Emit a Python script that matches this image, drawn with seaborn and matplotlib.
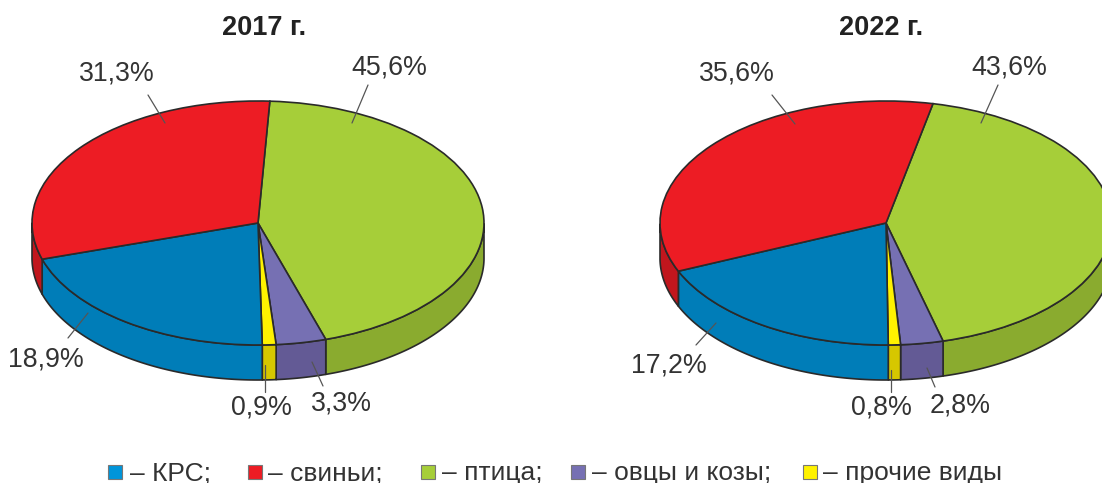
import numpy as np
import matplotlib
matplotlib.use("Agg")
import matplotlib.pyplot as plt
from matplotlib.patches import Rectangle
import seaborn as sns

# -------------------------------
# Data
# -------------------------------
categories = ["птица", "овцы и козы", "прочие виды", "КРС", "свиньи"]
values_2017 = [45.6, 3.3, 0.9, 18.9, 31.3]
values_2022 = [43.6, 2.8, 0.8, 17.2, 35.6]
titles = ["2017 г.", "2022 г."]
labels_2017 = ["45,6%", "3,3%", "0,9%", "18,9%", "31,3%"]
labels_2022 = ["43,6%", "2,8%", "0,8%", "17,2%", "35,6%"]
legend_labels = ["– КРС;", "– свиньи;", "– птица;", "– овцы и козы;", "– прочие виды"]

# -------------------------------
# Style
# -------------------------------
sns.set_theme(style="white")
plt.rcParams["font.family"] = ["Liberation Sans", "DejaVu Sans"]

top_colors = sns.color_palette(["#A6CE39", "#7670B3", "#FFF200", "#007DB8", "#ED1C24"])
side_colors = sns.color_palette(["#8AAB2F", "#635A95", "#D6C700", "#007DB8", "#C1161D"])
legend_colors = ["#0095DA", "#ED1C24", "#A6CE39", "#7670B3", "#FFF200"]
edge = "#2A2A2A"
text_color = "#333333"

W, H = 1102, 483
RX, RY, DEPTH = 226, 122, 35
BETA = 0.09  # perspective: the near side of the disc looks larger
NEAR_SHIFT = 20  # near point sits a bit left of the bottom


def warp(deg, beta=BETA):
    # true angle on the disc -> angle seen in the tilted picture
    t = np.radians(deg + NEAR_SHIFT)
    d = 1 + beta * np.sin(t)
    s = (np.sin(t) + beta) / d
    c = np.sqrt(1 - beta ** 2) * np.cos(t) / d
    return np.degrees(np.arctan2(s, c)) - NEAR_SHIFT


def draw_pie(cx, cy, values, start):
    depth = DEPTH / RY
    ax = fig.add_axes([(cx - RX) / W, 1 - (cy + RY + DEPTH) / H,
                       2 * RX / W, (2 * RY + DEPTH) / H])

    # start and end of every wedge, clockwise from the start angle
    true_start = warp(start, -BETA)
    edges = true_start - np.cumsum([0] + list(values)) * 3.6
    seen = np.unwrap(warp(edges), period=360)

    # walls, only the part of the rim on the near side
    for i in range(len(values)):
        a = np.linspace(seen[i], seen[i + 1], 200)
        a = a[np.sin(np.radians(a)) <= 0]
        if len(a) < 2:
            continue
        x = np.cos(np.radians(a))
        y = np.sin(np.radians(a))
        ax.fill(np.r_[x, x[::-1]], np.r_[y, y[::-1] - depth],
                facecolor=side_colors[i], edgecolor=edge, linewidth=1.2, joinstyle="round")

    ax.pie(-np.diff(seen), colors=top_colors, startangle=seen[0], counterclock=False,
           radius=1, wedgeprops={"edgecolor": edge, "linewidth": 1.2})
    ax.set_aspect("auto")
    ax.set_xlim(-1, 1)
    ax.set_ylim(-1 - depth, 1)
    ax.axis("off")
    for artist in ax.patches:
        artist.set_clip_on(False)


fig = plt.figure(figsize=(W / 100, H / 100), dpi=100)
fig.patch.set_facecolor("white")

draw_pie(258, 223, values_2017, 87)
draw_pie(886, 223, values_2022, 78)

# -------------------------------
# Overlay in picture pixels for texts, leaders and legend
# -------------------------------
over = fig.add_axes([0, 0, 1, 1])
over.set_xlim(0, W)
over.set_ylim(H, 0)
over.axis("off")
over.patch.set_alpha(0)

for title, x in zip(titles, [264, 881]):
    over.text(x, 28, title, ha="center", va="center", fontsize=19.5,
              fontweight="bold", color="#222222")

label_pos_2017 = [(389, 67), (341, 403), (261, 408), (46, 360), (117, 74)]
label_pos_2022 = [(1009, 67), (960, 406), (881, 407), (669, 366), (737, 74)]
leaders_2017 = [((368, 85), (352, 123)), ((323, 386), (312, 362)), ((265, 392), (265, 365)),
                ((68, 338), (88, 313)), ((148, 95), (165, 123))]
leaders_2022 = [((998, 85), (981, 123)), ((935, 387), (927, 368)), ((891, 392), (891, 370)),
                ((696, 345), (716, 323)), ((772, 95), (795, 124))]

for labels, positions, leaders in [(labels_2017, label_pos_2017, leaders_2017),
                                   (labels_2022, label_pos_2022, leaders_2022)]:
    for label, (x, y), (p0, p1) in zip(labels, positions, leaders):
        over.text(x, y, label, ha="center", va="center", fontsize=19.3, color=text_color)
        over.plot([p0[0], p1[0]], [p0[1], p1[1]], color="#555555", linewidth=0.9)

box_x = [108, 248, 421, 571, 803]
text_x = [130, 268, 442, 592, 823]
for label, color, bx, tx in zip(legend_labels, legend_colors, box_x, text_x):
    over.add_patch(Rectangle((bx, 465), 14, 14, facecolor=color, edgecolor="#777777", linewidth=0.8))
    over.text(tx, 473, label, ha="left", va="center", fontsize=19, color=text_color)

fig.savefig("out.png", dpi=100, facecolor="white")
